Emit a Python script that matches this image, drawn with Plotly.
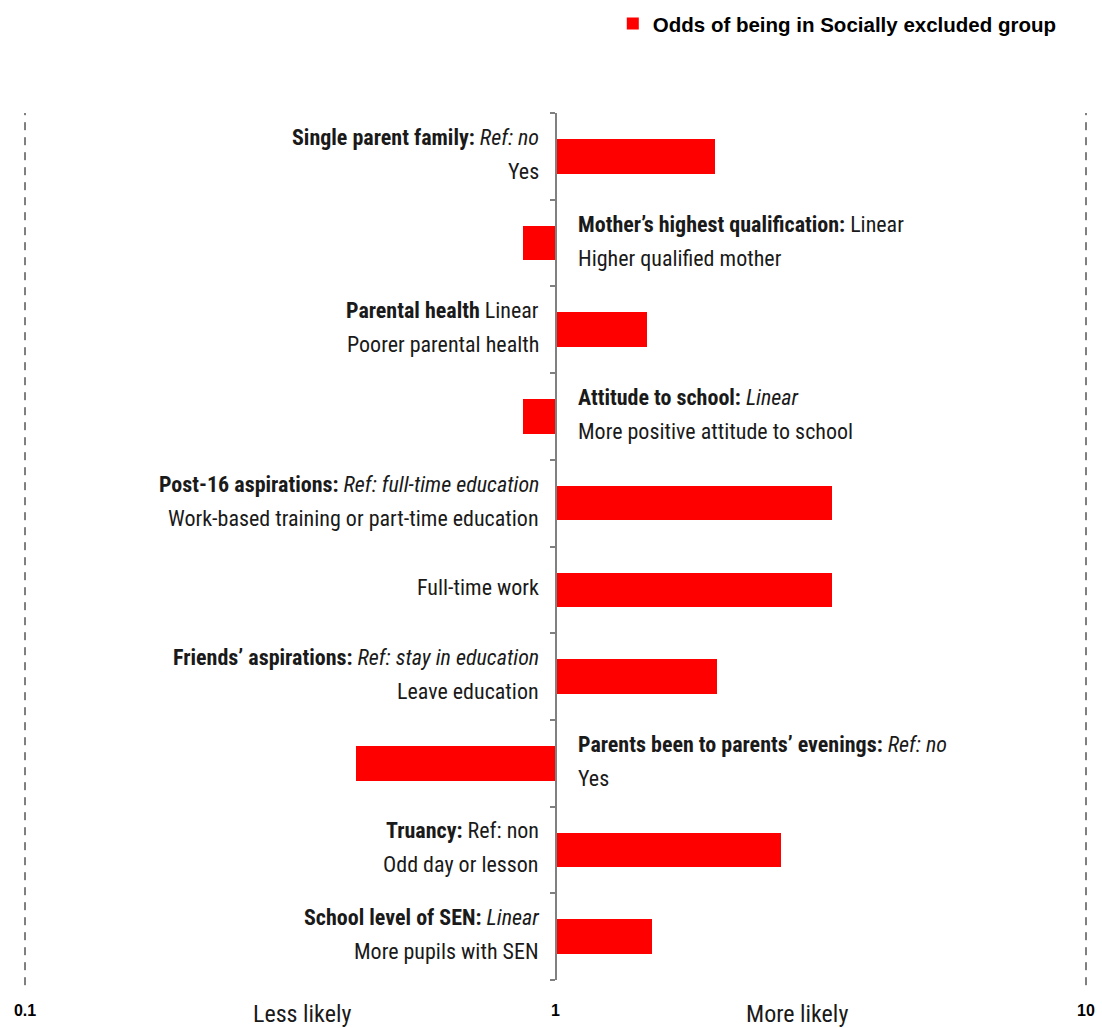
import math
import plotly.graph_objects as go

# ---- data ----
headings = ["Single parent family:", "Mother\u2019s highest qualification:", "Parental health",
            "Attitude to school:", "Post-16 aspirations:", "", "Friends\u2019 aspirations:",
            "Parents been to parents\u2019 evenings:", "Truancy:", "School level of SEN:"]
refs = ["Ref: no", "Linear", "Linear", "Linear", "Ref: full-time education", "",
        "Ref: stay in education", "Ref: no", "Ref: non", "Linear"]
levels = ["Yes", "Higher qualified mother", "Poorer parental health",
          "More positive attitude to school", "Work-based training or part-time education",
          "Full-time work", "Leave education", "Yes", "Odd day or lesson", "More pupils with SEN"]
odds = [2.0, 0.87, 1.49, 0.87, 3.32, 3.32, 2.02, 0.42, 2.66, 1.52]
tick_values = [0.1, 1, 10]
tick_labels = ["0.1", "1", "10"]
side_labels = ["Less likely", "More likely"]
series_name = "Odds of being in Socially excluded group"

# ---- style ----
ref_italic = [True, False, False, True, True, False, True, True, False, True]
LABEL_FONT = "Liberation Sans Narrow, Arial Narrow, Roboto Condensed, Liberation Sans, sans-serif"
BOLD_FONT = "Liberation Sans, Arial, sans-serif"
TXT = "#1a1a1a"

n = len(odds)
ypos = list(range(n))

fig = go.Figure()
fig.add_trace(go.Bar(
    y=ypos, x=[v - 1 for v in odds], base=[1] * n, orientation="h",
    width=0.4, marker=dict(color="#ff0000", line=dict(width=0)),
    name=series_name, showlegend=True, hoverinfo="skip",
))

annotations = []
for i in range(n):
    pos = odds[i] >= 1
    xanchor = "right" if pos else "left"
    xshift = -15 if pos else 20
    ref = refs[i]
    if ref:
        ref = f"<i>{ref}</i>" if ref_italic[i] else ref
    fnt = dict(family=LABEL_FONT, size=22, color=TXT)
    if headings[i]:
        line1 = f"<b>{headings[i]}</b> {ref}".strip()
        annotations.append(dict(x=0, y=i, xref="x", yref="y", text=line1, showarrow=False,
                                xanchor=xanchor, yanchor="middle", xshift=xshift, yshift=19,
                                font=fnt))
        annotations.append(dict(x=0, y=i, xref="x", yref="y", text=levels[i], showarrow=False,
                                xanchor=xanchor, yanchor="middle", xshift=xshift, yshift=-15,
                                font=fnt))
    else:
        annotations.append(dict(x=0, y=i, xref="x", yref="y", text=levels[i], showarrow=False,
                                xanchor=xanchor, yanchor="middle", xshift=xshift, yshift=2,
                                font=fnt))

for xp, t in zip([0.261, 0.7276], side_labels):
    annotations.append(dict(x=xp, y=0, xref="paper", yref="paper", text=t, showarrow=False,
                            xanchor="center", yanchor="middle", yshift=-34,
                            font=dict(family=LABEL_FONT, size=24, color=TXT)))

shapes = [dict(type="line", xref="paper", yref="paper", x0=xp, x1=xp, y0=-0.006, y1=1,
               line=dict(color="black", width=1, dash="8px,7px"), layer="below")
          for xp in (0, 1)]

fig.update_layout(
    width=1102, height=1028,
    margin=dict(l=25, r=16, t=113, b=48, autoexpand=False),
    plot_bgcolor="white", paper_bgcolor="white",
    bargap=0,
    annotations=annotations,
    shapes=shapes,
    showlegend=True,
    legend=dict(x=0.554, y=1.126, xanchor="left", yanchor="top",
                font=dict(family=BOLD_FONT, size=20.5, color="black", weight="bold"),
                bgcolor="rgba(0,0,0,0)", itemclick=False, itemdoubleclick=False),
    xaxis=dict(type="log", range=[-1, 1], tickvals=tick_values, ticktext=tick_labels,
               showline=False, zeroline=False, ticks="", ticklabelstandoff=19,
               showgrid=False,
               tickfont=dict(family=BOLD_FONT, size=16, color="black", weight="bold")),
    yaxis=dict(range=[n - 0.5, -0.5], anchor="free", position=0.5,
               tickvals=[k - 0.5 for k in range(n + 1)], showticklabels=False,
               ticks="outside", ticklen=5, tickcolor="#808080", tickwidth=1.5,
               showline=True, linecolor="#808080", linewidth=2,
               showgrid=False, zeroline=False),
)

fig.write_html("out.html", config={"displayModeBar": False},
               post_script="document.body.style.margin='0';document.body.style.padding='0';")
